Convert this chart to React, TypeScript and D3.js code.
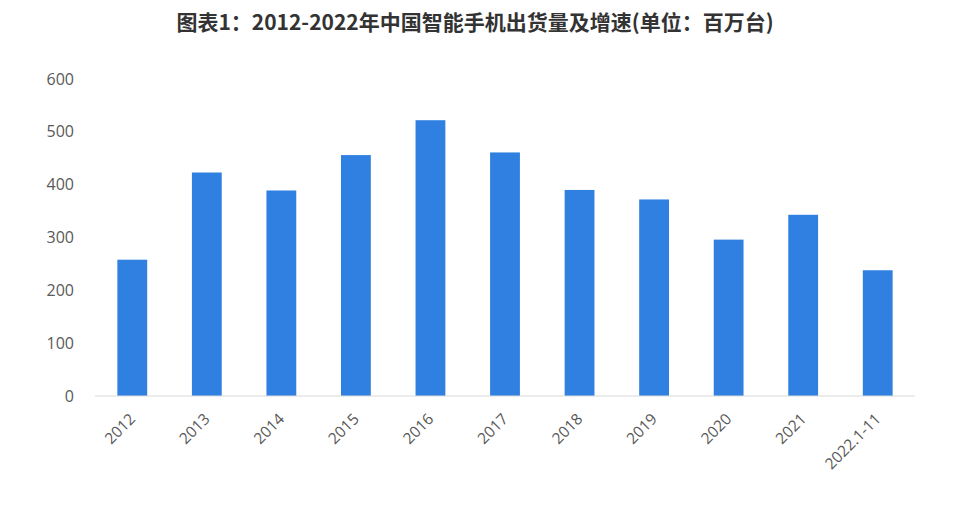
import React from "react";
import * as d3 from "d3";

const categories = ["2012", "2013", "2014", "2015", "2016", "2017", "2018", "2019", "2020", "2021", "2022.1-11"];
const shipments = [258, 423, 389, 456, 522, 461, 390, 372, 296, 343, 238];
const yTicks = [0, 100, 200, 300, 400, 500, 600];
const title = "图表1：2012-2022年中国智能手机出货量及增速(单位：百万台)";

const W = 954;
const H = 508;
const margin = { left: 95, right: 39, top: 79, bottom: 112 };

export default function App() {
  const x = d3
    .scaleBand<string>()
    .domain(categories)
    .range([margin.left, W - margin.right])
    .paddingInner(0.6)
    .paddingOuter(0.3);
  const y = d3.scaleLinear().domain([0, 600]).range([H - margin.bottom, margin.top]);
  const font = "'Open Sans', 'Noto Sans', sans-serif";
  return (
    <svg width={W} height={H} style={{ position: "absolute", left: 0, top: 0, background: "#fff" }}>
      <rect width={W} height={H} fill="#fff" />
      <text
        x={475}
        y={30}
        textAnchor="middle"
        fontFamily="'Noto Sans CJK SC', sans-serif"
        fontWeight="bold"
        fontSize={21}
        fill="#333"
      >
        {title}
      </text>
      {yTicks.map((t) => (
        <text
          key={t}
          x={74}
          y={y(t)}
          dy="0.35em"
          textAnchor="end"
          fontFamily={font}
          fontSize={16}
          fill="#595959"
        >
          {t}
        </text>
      ))}
      {categories.map((c, i) => (
        <rect
          key={c}
          x={x(c)}
          y={y(shipments[i])}
          width={x.bandwidth()}
          height={y(0) - y(shipments[i])}
          fill="#2f80e0"
        />
      ))}
      <line x1={margin.left} x2={W - margin.right} y1={y(0)} y2={y(0)} stroke="#d9d9d9" strokeWidth={1} />
      {categories.map((c) => {
        const cx = (x(c) as number) + x.bandwidth() / 2;
        return (
          <text
            key={c}
            transform={`translate(${cx + 4},${y(0) + 24}) rotate(-45)`}
            textAnchor="end"
            fontFamily={font}
            fontSize={15.5}
            fill="#595959"
          >
            {c}
          </text>
        );
      })}
    </svg>
  );
}
